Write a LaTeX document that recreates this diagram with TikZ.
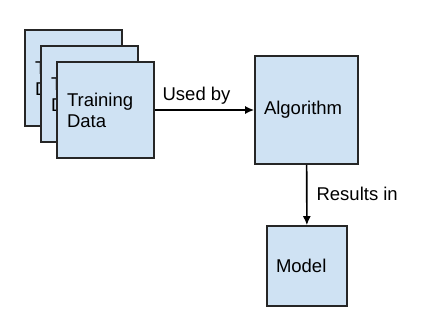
\documentclass[tikz,border=0pt]{standalone}
\usepackage{fontspec}
\setmainfont{Liberation Sans}
\usepackage[svgnames]{xcolor}
\usetikzlibrary{arrows.meta}
\definecolor{boxblue}{HTML}{CFE2F3}

\begin{document}
\begin{tikzpicture}[
            x=1pt, y=-1pt,
            font=\fontsize{18.5}{21}\selectfont,
            databox/.style={draw=black!85, fill=boxblue, line width=1.6pt, align=left,
                inner xsep=10pt, text width=77pt, minimum height=96pt},
            stagebox/.style={draw=black!85, fill=boxblue, line width=1.6pt, align=left,
                inner xsep=9pt},
            flow/.style={line width=1.6pt, -{Latex[length=9pt, width=8pt]}},
            flowlabel/.style={inner sep=2pt}
        ]
            \useasboundingbox (0, 0) rectangle (423, 335);

            % stacked training sets
            \node[databox] (setc) at (73.5, 78) {Training\\Data};
            \node[databox] (setb) at (89.5, 94) {Training\\Data};
            \node[databox] (seta) at (105.5, 110) {Training\\Data};

            % algorithm and model
            \node[stagebox, text width=85pt, minimum height=108pt] (algo) at (306.5, 110) {Algorithm};
            \node[stagebox, text width=62pt, minimum height=80pt] (model) at (307, 266) {Model};

            % connectors
            \draw[flow] (seta) -- node[flowlabel, above=3pt, pos=0.42] {Used by} (algo);
            \draw[flow] (algo) -- node[flowlabel, right=7pt, pos=0.48] {Results in} (model);

        \end{tikzpicture}
\end{document}
